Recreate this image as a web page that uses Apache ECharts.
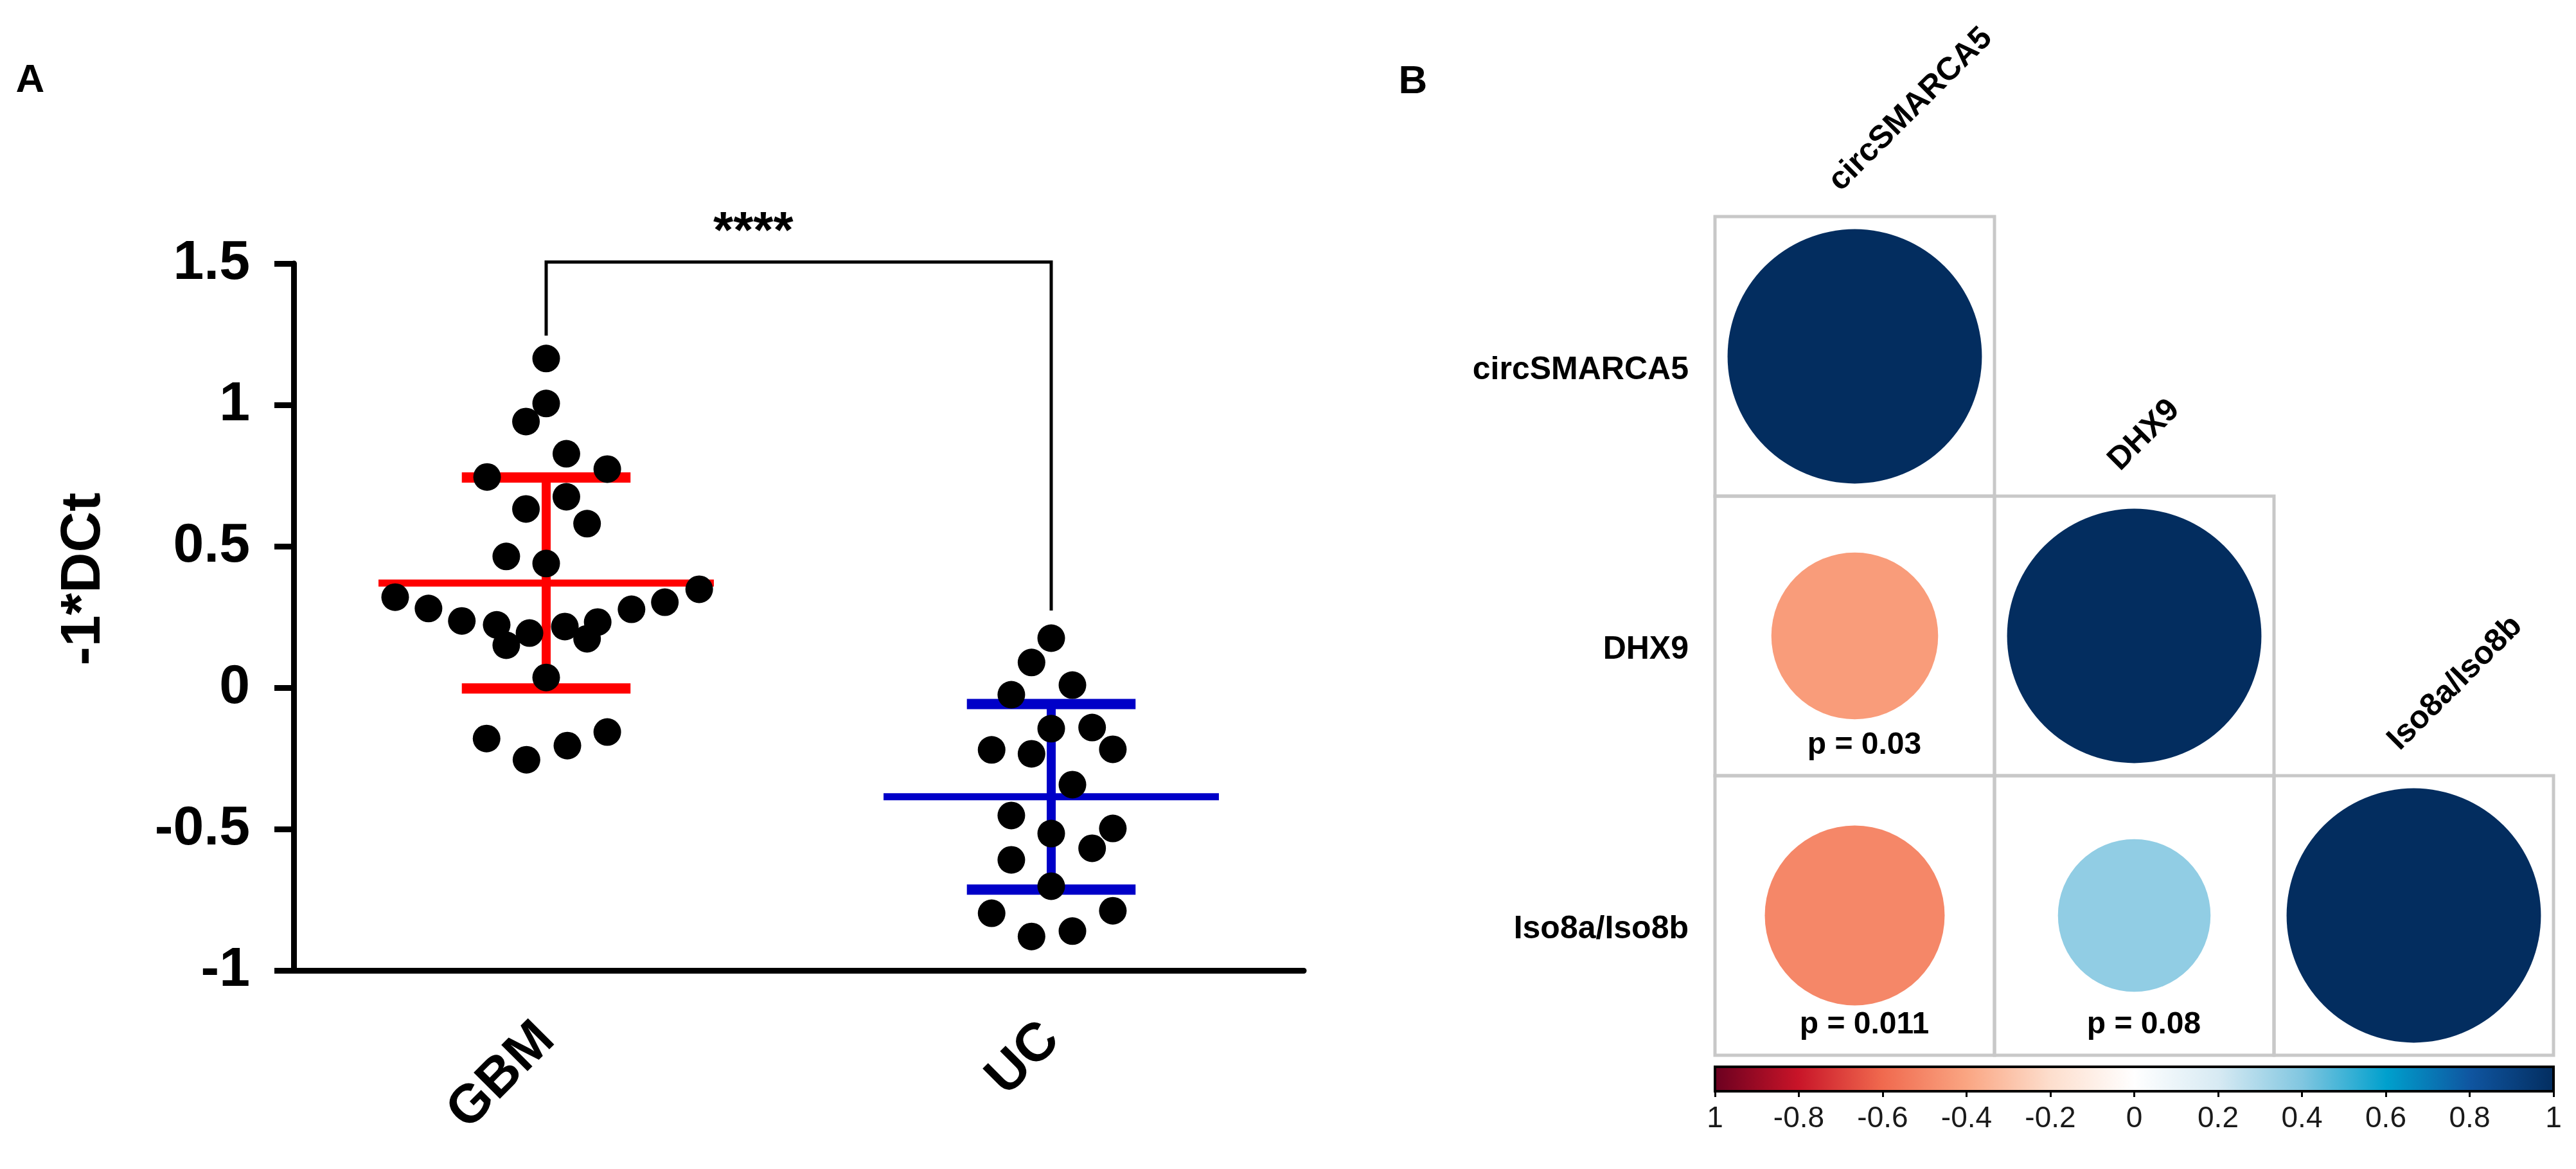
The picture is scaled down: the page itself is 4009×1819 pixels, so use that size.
<!DOCTYPE html>
<html><head><meta charset="utf-8">
<script src="https://cdn.jsdelivr.net/npm/echarts@6/dist/echarts.min.js"></script>
<style>html,body{margin:0;padding:0;background:#fff}#c{width:4009px;height:1819px}</style>
</head><body><div id="c"></div>
<script>
// ---------- Panel A data ----------
const groups = ['GBM', 'UC'];
const gbmValues = [1.164, 1.005, 0.941, 0.827, 0.745, 0.773, 0.675, 0.632, 0.580, 0.464, 0.439,
  0.320, 0.280, 0.236, 0.222, 0.150, 0.193, 0.216, 0.173, 0.232, 0.277, 0.302, 0.348,
  0.036, -0.180, -0.255, -0.205, -0.157];
const gbmJitter = [0.00, 0.00, -0.04, 0.04, -0.117, 0.121, 0.04, -0.04, 0.081, -0.079, 0.00,
  -0.299, -0.233, -0.167, -0.098, -0.079, -0.033, 0.037, 0.081, 0.102, 0.169, 0.235, 0.303,
  0.00, -0.118, -0.039, 0.042, 0.121];
const ucValues = [0.175, 0.089, 0.009, -0.025, -0.145, -0.141, -0.220, -0.234, -0.218, -0.343,
  -0.452, -0.516, -0.498, -0.568, -0.609, -0.702, -0.798, -0.789, -0.880, -0.861];
const ucJitter = [0.00, -0.039, 0.042, -0.079, 0.00, 0.081, -0.118, -0.039, 0.122, 0.042,
  -0.079, 0.00, 0.122, 0.081, -0.079, 0.00, -0.118, 0.122, -0.039, 0.042];
const groupMeans = [0.370, -0.386];
const groupSDs = [0.373, 0.328];
const groupColors = ['#FF0000', '#0000C8'];
// significance bracket: [left x, left leg bottom, right x, right leg bottom, top]
const bracket = [0, 1.245, 1, 0.273, 1.505];
const signifText = '****';
const signifPos = [0.41, 1.607];

// ---------- Panel B data ----------
const corrVars = ['circSMARCA5', 'DHX9', 'Iso8a/Iso8b'];
const corrR = [[1], [-0.43, 1], [-0.50, 0.36, 1]];
const corrP = [[''], ['p = 0.03', ''], ['p = 0.011', 'p = 0.08', '']];
const palette = ['#6A0020', '#C81428', '#F0694E', '#FAA582', '#FDDECD', '#FFFFFF',
  '#D7EAF3', '#80C6E0', '#00A0CD', '#0F55A0', '#032D5F'];

// ---------- layout constants ----------
const FONT = 'Liberation Sans';
const CELL = 435;
const MEAN_HALF = 0.332, CAP_HALF = 0.167;

const dots = [];
gbmValues.forEach((v, i) => dots.push([0 + gbmJitter[i], v]));
ucValues.forEach((v, i) => dots.push([1 + ucJitter[i], v]));
const errData = groupMeans.map((m, i) => [i, m, groupSDs[i]]);

const corrData = [], cellData = [], pData = [];
corrR.forEach((row, r) => row.forEach((val, c) => {
  corrData.push([c, r, val]);
  cellData.push([c, r]);
  if (corrP[r][c]) pData.push([c, r, pData.length]);
}));
const pTexts = [];
corrP.forEach(row => row.forEach(t => { if (t) pTexts.push(t); }));

const chart = echarts.init(document.getElementById('c'));
const option = {
  animation: false,
  backgroundColor: '#fff',
  textStyle: { fontFamily: FONT },
  graphic: [
    { type: 'text', x: 47, y: 126, style: { text: 'A', fontSize: 62, fontWeight: 'bold', fill: '#000', align: 'center', verticalAlign: 'middle', fontFamily: FONT } },
    { type: 'text', x: 2199, y: 128, style: { text: 'B', fontSize: 62, fontWeight: 'bold', fill: '#000', align: 'center', verticalAlign: 'middle', fontFamily: FONT } },
    { type: 'text', x: 131, y: 901, rotation: Math.PI / 2, style: { text: '-1*DCt', fontSize: 88, fontWeight: 'bold', fill: '#000', align: 'center', verticalAlign: 'middle', fontFamily: FONT } }
  ],
  grid: [
    { left: 457, top: 410, width: 1572, height: 1100 },
    { left: 2669, top: 337, width: CELL * 3, height: CELL * 3 },
    { left: 2669, top: 1660, width: CELL * 3, height: 38 }
  ],
  xAxis: [
    { gridIndex: 0, type: 'category', data: groups,
      axisLine: { onZero: false, lineStyle: { color: '#000', width: 9 } },
      axisTick: { alignWithLabel: true, length: 28, lineStyle: { color: '#000', width: 9 } },
      splitLine: { show: false },
      axisLabel: { rotate: 45, margin: 95, color: '#000', fontFamily: FONT,
        fontSize: 84, fontWeight: 'bold' } },
    { gridIndex: 0, type: 'value', min: -0.5, max: 1.5, show: false },
    { gridIndex: 1, type: 'category', data: corrVars, show: false },
    { gridIndex: 2, type: 'value', min: -1, max: 1, interval: 0.2,
      axisLine: { show: false }, splitLine: { show: false },
      axisTick: { show: true, length: 9, lineStyle: { color: '#000', width: 3 } },
      axisLabel: { margin: 20, fontSize: 46, color: '#1a1a1a', fontFamily: FONT,
        formatter: v => { const r = Math.round(v * 10) / 10; return r === -1 ? '1' : String(r); } } }
  ],
  yAxis: [
    { gridIndex: 0, type: 'value', min: -1, max: 1.5, interval: 0.5,
      axisLine: { show: true, onZero: false, lineStyle: { color: '#000', width: 9 } },
      axisTick: { show: true, length: 30, lineStyle: { color: '#000', width: 9 } },
      splitLine: { show: false },
      axisLabel: { margin: 68, fontSize: 86, fontWeight: 'bold', color: '#000', fontFamily: FONT } },
    { gridIndex: 1, type: 'category', data: corrVars, inverse: true,
      axisLine: { show: false }, axisTick: { show: false }, splitLine: { show: false },
      axisLabel: { show: false } },
    { gridIndex: 2, type: 'value', min: 0, max: 1, show: false }
  ],
  visualMap: { show: false, type: 'continuous', min: -1, max: 1, dimension: 2, seriesIndex: 5,
    inRange: { color: palette } },
  series: [
    { type: 'custom', xAxisIndex: 1, yAxisIndex: 0, z: 2, data: errData,
      renderItem: (params, api) => {
        const i = api.value(0), m = api.value(1), s = api.value(2);
        const c = api.coord([i, m]), t = api.coord([i, m + s]), b = api.coord([i, m - s]);
        const mh = api.size([MEAN_HALF, 0])[0], ch = api.size([CAP_HALF, 0])[0];
        const col = groupColors[params.dataIndex];
        return { type: 'group', children: [
          { type: 'line', shape: { x1: c[0], y1: t[1], x2: c[0], y2: b[1] }, style: { stroke: col, lineWidth: 14 } },
          { type: 'line', shape: { x1: c[0] - ch, y1: t[1], x2: c[0] + ch, y2: t[1] }, style: { stroke: col, lineWidth: 16 } },
          { type: 'line', shape: { x1: c[0] - ch, y1: b[1], x2: c[0] + ch, y2: b[1] }, style: { stroke: col, lineWidth: 16 } },
          { type: 'line', shape: { x1: c[0] - mh, y1: c[1], x2: c[0] + mh, y2: c[1] }, style: { stroke: col, lineWidth: 11 } }
        ] };
      } },
    { type: 'scatter', xAxisIndex: 1, yAxisIndex: 0, z: 3, data: dots, symbolSize: 43,
      itemStyle: { color: '#000', opacity: 1 }, silent: true },
    { type: 'custom', xAxisIndex: 1, yAxisIndex: 0, z: 2, data: [bracket],
      renderItem: (params, api) => {
        const p1 = api.coord([api.value(0), api.value(1)]);
        const p2 = api.coord([api.value(0), api.value(4)]);
        const p3 = api.coord([api.value(2), api.value(4)]);
        const p4 = api.coord([api.value(2), api.value(3)]);
        return { type: 'polyline', shape: { points: [p1, p2, p3, p4] },
          style: { stroke: '#000', lineWidth: 5, fill: null, lineJoin: 'miter' } };
      } },
    { type: 'custom', xAxisIndex: 1, yAxisIndex: 0, z: 2, data: [signifPos],
      renderItem: (params, api) => {
        const p = api.coord([api.value(0), api.value(1)]);
        return { type: 'text', x: p[0], y: p[1], style: { text: signifText, fontSize: 80, fontWeight: 'bold',
          fontFamily: FONT, fill: '#000', align: 'center', verticalAlign: 'middle' } };
      } },
    { type: 'custom', xAxisIndex: 2, yAxisIndex: 1, z: 1, data: cellData,
      renderItem: (params, api) => {
        const c = api.coord([api.value(0), api.value(1)]);
        const s = api.size([1, 1]);
        return { type: 'rect', shape: { x: c[0] - s[0] / 2, y: c[1] - s[1] / 2, width: s[0], height: s[1] },
          style: { fill: null, stroke: '#C8C8C8', lineWidth: 5 } };
      } },
    { type: 'scatter', xAxisIndex: 2, yAxisIndex: 1, z: 2, data: corrData, silent: true,
      itemStyle: { opacity: 1 },
      symbolSize: v => CELL * 0.91 * Math.sqrt(Math.abs(v[2])) },
    { type: 'custom', xAxisIndex: 2, yAxisIndex: 1, z: 3, data: corrVars.map((v, i) => [i, i]),
      renderItem: (params, api) => {
        const c = api.coord([api.value(0), api.value(1)]);
        const s = api.size([1, 1]);
        return { type: 'text', x: c[0] - 14, y: c[1] - s[1] / 2 - 30, rotation: Math.PI / 4,
          style: { text: corrVars[params.dataIndex], fontSize: 50, fontWeight: 'bold', fontFamily: FONT,
            fill: '#000', align: 'left', verticalAlign: 'bottom' } };
      } },
    { type: 'custom', xAxisIndex: 2, yAxisIndex: 1, z: 3, data: pData,
      renderItem: (params, api) => {
        const c = api.coord([api.value(0), api.value(1)]);
        return { type: 'text', x: c[0] + 15, y: c[1] + 170,
          style: { text: pTexts[api.value(2)], fontSize: 48, fontWeight: 'bold', fontFamily: FONT,
            fill: '#000', align: 'center', verticalAlign: 'middle' } };
      } },
    { type: 'custom', xAxisIndex: 3, yAxisIndex: 2, z: 2, data: [[-1, 1, 1, 0]],
      renderItem: (params, api) => {
        const a = api.coord([api.value(0), api.value(1)]);
        const b = api.coord([api.value(2), api.value(3)]);
        const stops = palette.map((col, i) => ({ offset: i / (palette.length - 1), color: col }));
        return { type: 'rect', shape: { x: a[0], y: a[1], width: b[0] - a[0], height: b[1] - a[1] },
          style: { fill: new echarts.graphic.LinearGradient(0, 0, 1, 0, stops), stroke: '#000', lineWidth: 4 } };
      } },
    // row labels of the correlation matrix (left side)
    { type: 'custom', xAxisIndex: 2, yAxisIndex: 1, z: 3, data: corrVars.map((v, i) => [0, i]),
      renderItem: (params, api) => {
        const c = api.coord([api.value(0), api.value(1)]);
        const s = api.size([1, 1]);
        return { type: 'text', x: c[0] - s[0] / 2 - 41, y: c[1] + 22,
          style: { text: corrVars[params.dataIndex], fontSize: 50, fontWeight: 'bold', fontFamily: FONT,
            fill: '#000', align: 'right', verticalAlign: 'middle' } };
      } }
  ]
};
chart.setOption(option);
</script>
</body></html>
